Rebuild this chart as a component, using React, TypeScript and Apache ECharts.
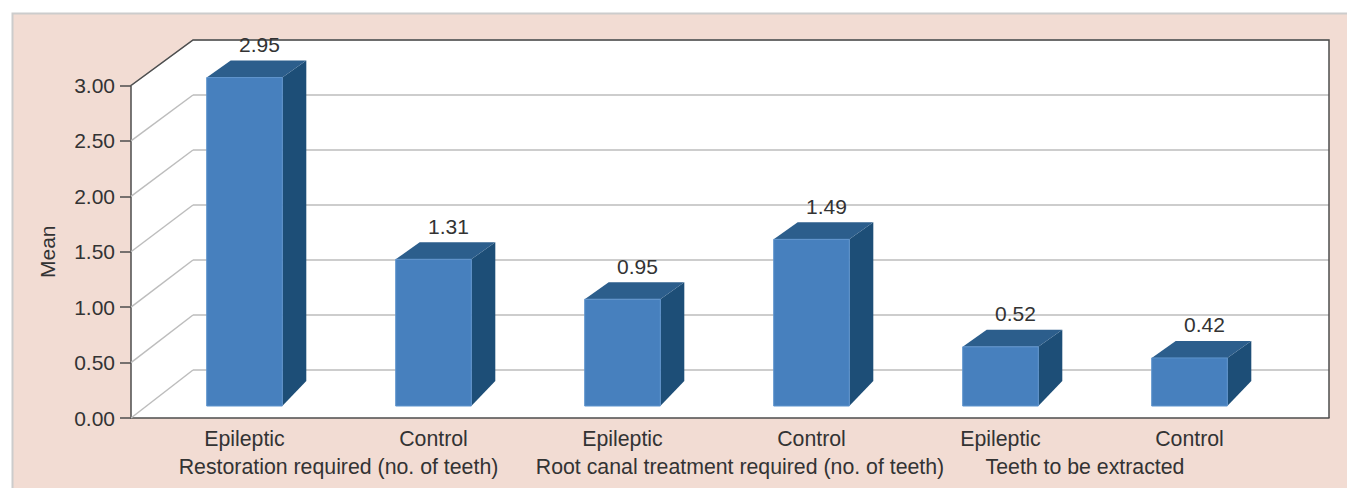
import React, { useEffect, useRef } from "react";
import * as echarts from "echarts";

const categories = ["Epileptic", "Control", "Epileptic", "Control", "Epileptic", "Control"];
const means = [2.95, 1.31, 0.95, 1.49, 0.52, 0.42];
const groupLabels = ["Restoration required (no. of teeth)", "Root canal treatment required (no. of teeth)", "Teeth to be extracted"];
const yTicks = [0, 0.5, 1, 1.5, 2, 2.5, 3];

const FONT = "Liberation Sans, Arial, sans-serif";
const TEXT = "#333333";
const AXIS = "#4d4d4d";
const GRIDLINE = "#bdbdbd";
const FRONT = "#4780be";
const FRONT_EDGE = "#5f94cd";
const TOP = "#2c5e8c";
const SIDE = "#1d4e77";
const PANEL = "#f2dcd3";

const L = 131, R = 1329, FY0 = 418, FY3 = 85.5, BX = 193, BY0 = 370, BY3 = 40;

export default function App() {
  const ref = useRef<HTMLDivElement>(null);
  useEffect(() => {
    document.body.style.margin = "0";
    const chart = echarts.init(ref.current!, null, { renderer: "svg" });
    const axisHidden = { axisLine: { show: false }, axisTick: { show: false }, axisLabel: { show: false }, splitLine: { show: false } };
    chart.setOption({
      animation: false,
      backgroundColor: "#ffffff",
      grid: [
        { left: L, top: FY3, width: R - L, height: FY0 - FY3 },
        { left: 150, top: FY3, width: 1134, height: FY0 - FY3 },
        { left: BX, top: BY3, width: R - BX, height: BY0 - BY3 },
      ],
      xAxis: [
        { gridIndex: 0, type: "value", min: 0, max: 1, ...axisHidden, axisLine: { show: true, onZero: false, lineStyle: { color: AXIS, width: 1.5 } } },
        {
          gridIndex: 1, type: "category", data: categories, ...axisHidden,
          axisLabel: { show: true, interval: 0, color: TEXT, fontFamily: FONT, fontSize: 21.3, margin: 10 },
        },
        { gridIndex: 2, type: "value", min: 0, max: 1, show: false },
      ],
      yAxis: [
        {
          gridIndex: 0, type: "value", min: 0, max: 3, interval: 0.5,
          name: "Mean", nameLocation: "middle", nameGap: 73,
          nameTextStyle: { color: TEXT, fontFamily: FONT, fontSize: 21 },
          axisLine: { show: true, lineStyle: { color: AXIS, width: 1.5 } },
          axisTick: { show: true, length: 11, lineStyle: { color: AXIS, width: 1.5 } },
          axisLabel: { color: TEXT, fontFamily: FONT, fontSize: 21, margin: 16, formatter: (v: number) => v.toFixed(2) },
          splitLine: { show: false },
        },
        { gridIndex: 1, type: "value", min: 0, max: 3, interval: 0.5, ...axisHidden },
        {
          gridIndex: 2, type: "value", min: 0, max: 3, interval: 0.5, ...axisHidden,
          splitLine: { show: true, lineStyle: { color: GRIDLINE, width: 1.5 } },
        },
      ],
      graphic: [
        { type: "rect", z: -3, silent: true, shape: { x: 12.5, y: 13.5, width: 1360, height: 500 }, style: { fill: PANEL, stroke: "#cccccc", lineWidth: 2 } },
        { type: "polygon", z: -2, silent: true, shape: { points: [[L, FY3], [BX, BY3], [R, BY3], [R, FY0], [L, FY0]] }, style: { fill: "#ffffff" } },
        { type: "polyline", z: 2, silent: true, shape: { points: [[L, FY3], [BX, BY3], [R, BY3], [R, FY0]] }, style: { fill: "none", stroke: AXIS, lineWidth: 1.5 } },
        { type: "text", x: 338.5, y: 467, silent: true, style: { text: groupLabels[0], fill: TEXT, font: `21.3px ${FONT}`, textAlign: "center", textVerticalAlign: "middle" } },
        { type: "text", x: 740, y: 467, silent: true, style: { text: groupLabels[1], fill: TEXT, font: `21.3px ${FONT}`, textAlign: "center", textVerticalAlign: "middle" } },
        { type: "text", x: 1085, y: 467, silent: true, style: { text: groupLabels[2], fill: TEXT, font: `21.3px ${FONT}`, textAlign: "center", textVerticalAlign: "middle" } },
      ],
      series: [
        {
          type: "custom", z: 1, silent: true, xAxisIndex: 0, yAxisIndex: 0, clip: false,
          data: yTicks.map((v) => [0, v]),
          renderItem: (_p: any, api: any) => {
            const v = api.value(1);
            const [x, y] = api.coord([0, v]);
            const by = BY0 - (v / 3) * (BY0 - BY3);
            return { type: "line", shape: { x1: x, y1: y, x2: BX, y2: by }, style: { stroke: GRIDLINE, lineWidth: 1.5 } };
          },
        },
        {
          type: "custom", z: 3, silent: true, xAxisIndex: 1, yAxisIndex: 1, clip: false,
          data: means.map((v, i) => [i, v]),
          renderItem: (_p: any, api: any) => {
            const v = api.value(1);
            const [cx, y] = api.coord([api.value(0), v]);
            const [, y0] = api.coord([api.value(0), 0]);
            const w = api.size([1, 0])[0] * 0.4;
            const l = cx - w / 2, r = cx + w / 2;
            const top = y - 13.5, bottom = y0 - 12;
            const dx = 24, dy = 17, sideDrop = 25;
            return {
              type: "group",
              children: [
                { type: "polygon", shape: { points: [[r, top], [r + dx, top - dy], [r + dx, bottom - sideDrop], [r, bottom]] }, style: { fill: SIDE } },
                { type: "polygon", shape: { points: [[l, top], [l + dx, top - dy], [r + dx, top - dy], [r, top]] }, style: { fill: TOP } },
                { type: "rect", shape: { x: l, y: top, width: w, height: bottom - top }, style: { fill: FRONT, stroke: FRONT_EDGE, lineWidth: 1 } },
                { type: "text", x: cx + 15, y: top - 33, style: { text: v.toFixed(2), fill: TEXT, font: `21px ${FONT}`, textAlign: "center", textVerticalAlign: "middle" } },
              ],
            };
          },
        },
      ],
    });
    return () => chart.dispose();
  }, []);
  return <div ref={ref} style={{ width: 1347, height: 488 }} />;
}
